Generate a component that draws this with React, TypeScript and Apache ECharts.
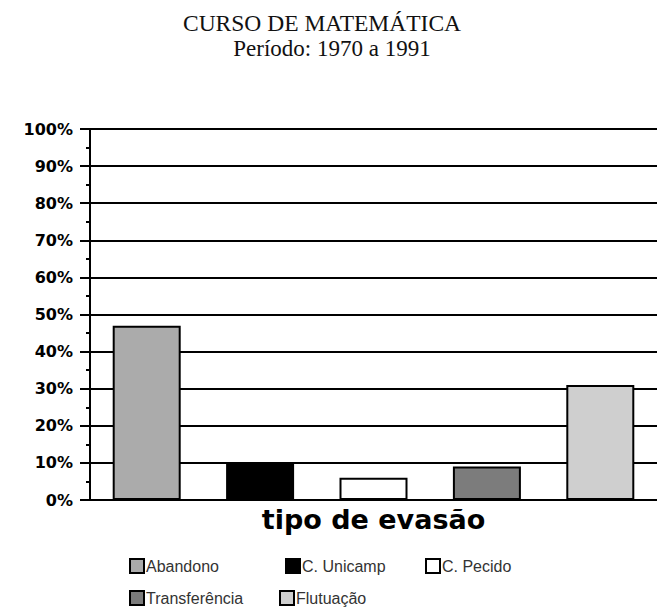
import React, { useEffect, useRef } from "react";
import * as echarts from "echarts";

const categories = ["Abandono", "C. Unicamp", "C. Pecido", "Transferência", "Flutuação"];
const values = [47, 10, 6, 9, 31];
const colors = ["#ababab", "#000000", "#ffffff", "#7c7c7c", "#cfcfcf"];
const titleText = "CURSO DE MATEMÁTICA";
const subtitleText = "Período: 1970 a 1991";
const axisName = "tipo de evasão";
const legendPos = [
  { left: 129, top: 558 },
  { left: 285, top: 558 },
  { left: 425, top: 558 },
  { left: 129, top: 590 },
  { left: 279, top: 590 },
];

export default function App() {
  const ref = useRef<HTMLDivElement>(null);
  useEffect(() => {
    document.body.style.margin = "0";
    if (!ref.current) return;
    const chart = echarts.init(ref.current, null, { renderer: "svg" });
    const series = categories.map((name, i) => ({
      name,
      type: "bar",
      stack: "all",
      barWidth: 68,
      data: categories.map((_, j) => (j === i ? values[i] : "-")),
      itemStyle: { color: colors[i], borderColor: "#000", borderWidth: 2 },
      z: 3,
    }));
    const legends = categories.map((name, i) => ({
      data: [name],
      left: legendPos[i].left,
      top: legendPos[i].top,
      padding: 0,
      icon: "rect",
      itemWidth: 14,
      itemHeight: 14,
      itemGap: 0,
      textStyle: { fontSize: 16, color: "#333", fontFamily: "Liberation Sans", padding: [0, 0, 0, -3] },
      selectedMode: false,
    }));
    chart.setOption({
      animation: false,
      backgroundColor: "#fff",
      graphic: [
        {
          type: "text",
          x: 322,
          y: 23,
          style: {
            text: titleText,
            fontFamily: "Liberation Serif",
            fontSize: 23.5,
            fill: "#111",
            textAlign: "center",
            textVerticalAlign: "middle",
          },
        },
        {
          type: "text",
          x: 332,
          y: 48,
          style: {
            text: subtitleText,
            fontFamily: "Liberation Serif",
            fontSize: 23,
            fill: "#111",
            textAlign: "center",
            textVerticalAlign: "middle",
          },
        },
      ],
      legend: legends,
      grid: { left: 90, right: 0, top: 129, bottom: 109 },
      xAxis: {
        type: "category",
        data: categories,
        axisLine: { lineStyle: { color: "#000", width: 2 } },
        axisTick: { show: false },
        axisLabel: { show: false },
        name: axisName,
        nameLocation: "middle",
        nameGap: 6,
        nameTextStyle: {
          fontFamily: "DejaVu Sans",
          fontWeight: "bold",
          fontSize: 27,
          color: "#000",
          verticalAlign: "top",
        },
      },
      yAxis: {
        type: "value",
        min: 0,
        max: 100,
        interval: 10,
        axisLine: { show: true, lineStyle: { color: "#000", width: 2 } },
        axisTick: { show: true, length: 10, lineStyle: { color: "#000", width: 2 } },
        minorTick: { show: true, splitNumber: 2, length: 4, lineStyle: { color: "#000", width: 2 } },
        splitLine: { show: true, lineStyle: { color: "#000", width: 2 } },
        axisLabel: {
          formatter: "{value}%",
          margin: 17,
          fontFamily: "DejaVu Sans",
          fontWeight: "bold",
          fontSize: 16,
          color: "#000",
        },
      },
      series,
    });
    return () => chart.dispose();
  }, []);
  return <div ref={ref} style={{ width: 657, height: 609 }} />;
}
